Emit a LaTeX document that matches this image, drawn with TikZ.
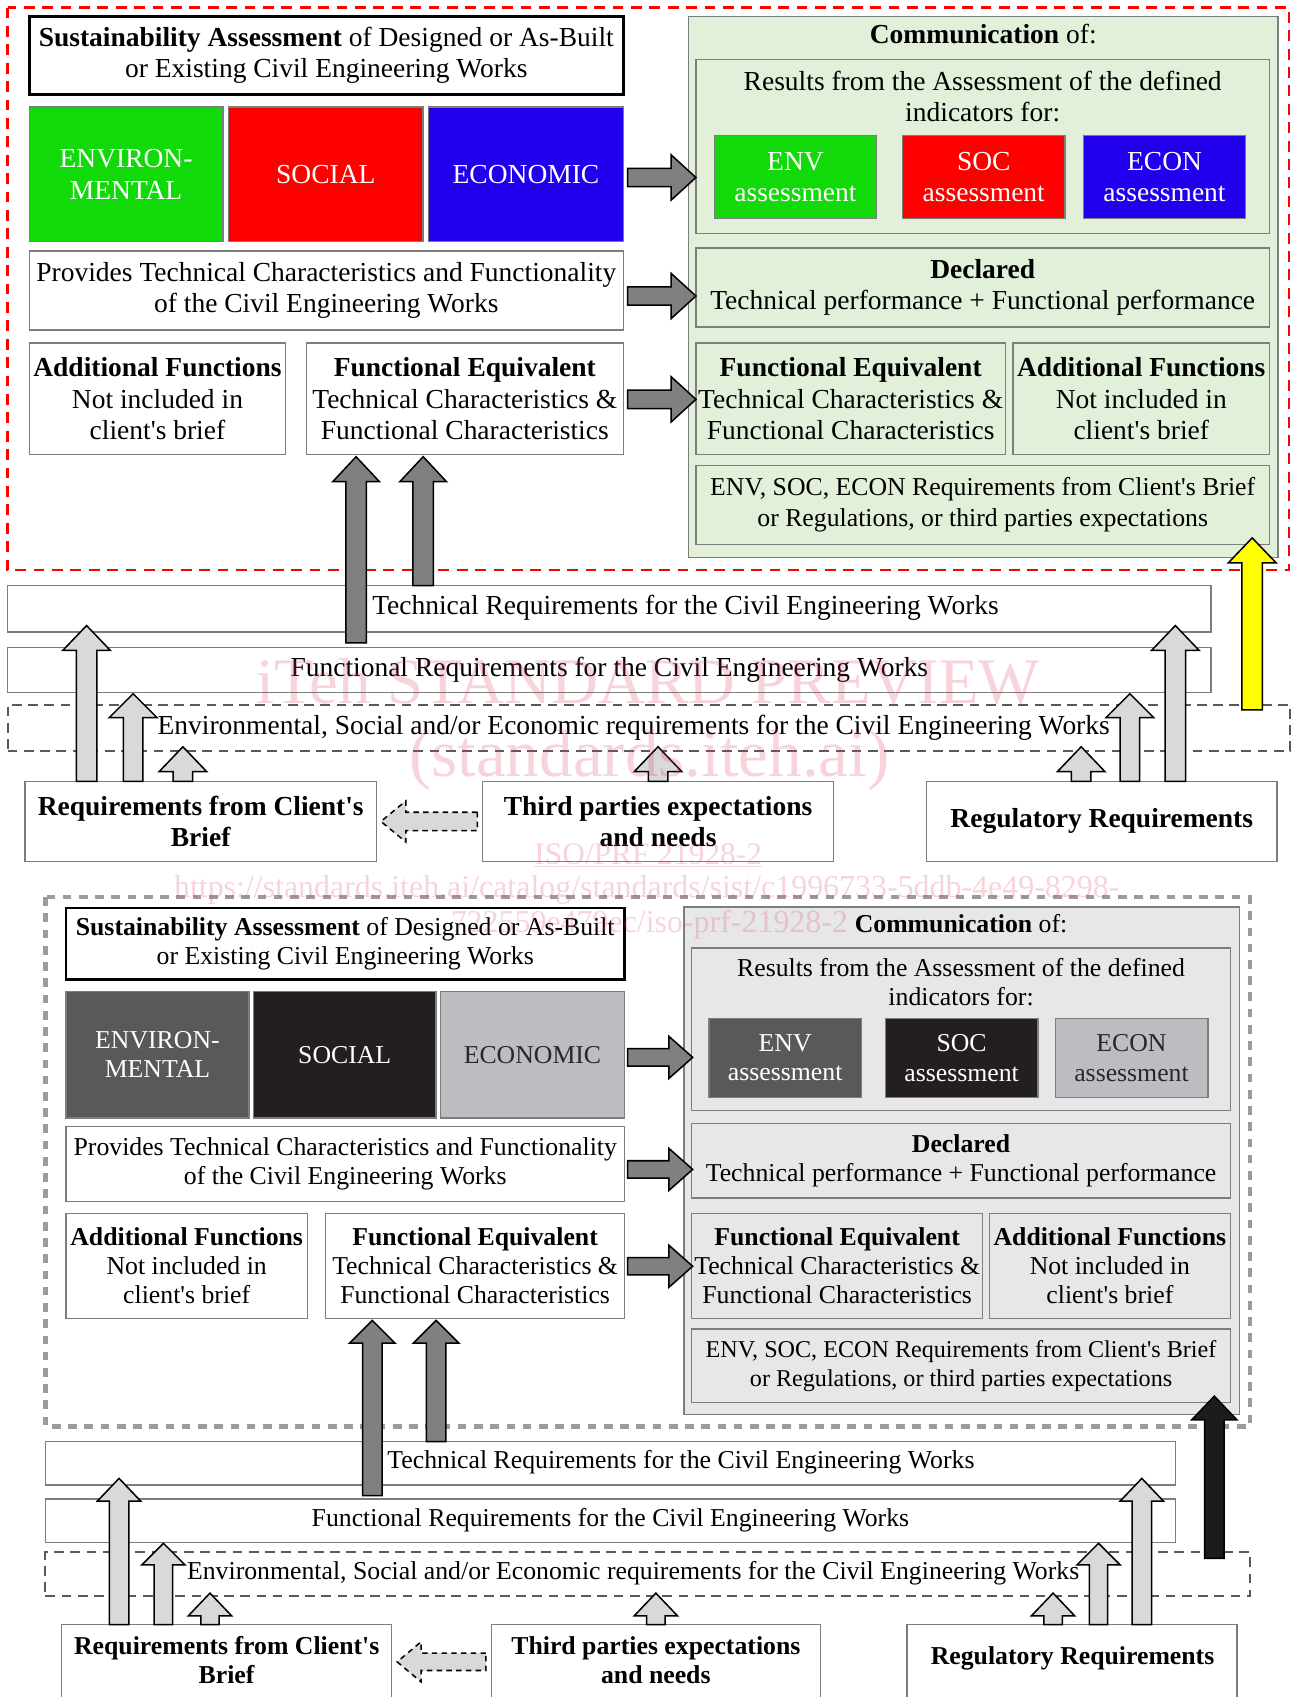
\documentclass[tikz,border=0pt]{standalone}
\usepackage{fontspec}
\setmainfont{Liberation Serif}[Ligatures=TeXOff]
\definecolor{bordgray}{RGB}{125,125,125}
\definecolor{cgreen}{RGB}{18,218,10}
\definecolor{cred}{RGB}{255,0,0}
\definecolor{cblue}{RGB}{34,0,238}
\definecolor{lgreen}{RGB}{226,239,217}
\definecolor{darrow}{RGB}{128,128,128}
\definecolor{larrow}{RGB}{217,217,217}
\definecolor{yarrow}{RGB}{255,255,0}
\definecolor{genv}{RGB}{88,89,91}
\definecolor{gsoc}{RGB}{35,31,32}
\definecolor{geco}{RGB}{188,189,192}
\definecolor{lgray}{RGB}{231,231,232}
\definecolor{dashgray}{RGB}{90,90,90}
\definecolor{outgray}{RGB}{155,155,155}
\definecolor{barrow}{RGB}{28,28,28}
\definecolor{wmcol}{RGB}{220,60,90}
\definecolor{ecotext}{RGB}{40,40,40}
\newcommand\fA{\fontsize{25.4}{29}\selectfont}
\newcommand\fB{\fontsize{23.8}{27.2}\selectfont}
\newcommand\bx[6][]{\node[#1,anchor=north west,minimum width={(#4)-(#2)},minimum height={(#5)-(#3)}] (#6) at (#2,#3)}
% up arrow: [style]{cx}{ybottom}{ytip}{body half}{head half}{head length}
\newcommand\uarr[7][]{\draw[#1] ({#2-#5},#3) -- ({#2-#5},{#4+#7}) -- ({#2-#6},{#4+#7}) -- (#2,#4) -- ({#2+#6},{#4+#7}) -- ({#2+#5},{#4+#7}) -- ({#2+#5},#3) -- cycle;}
% right arrow: [style]{cy}{xleft}{xtip}{body half}{head half}{head length}
\newcommand\rarr[7][]{\draw[#1] (#3,{#2-#5}) -- ({#4-#7},{#2-#5}) -- ({#4-#7},{#2-#6}) -- (#4,#2) -- ({#4-#7},{#2+#6}) -- ({#4-#7},{#2+#5}) -- (#3,{#2+#5}) -- cycle;}
% left arrow: [style]{cy}{xright}{xtip}{body half}{head half}{head length}
\newcommand\larr[7][]{\draw[#1] (#3,{#2-#5}) -- ({#4+#7},{#2-#5}) -- ({#4+#7},{#2-#6}) -- (#4,#2) -- ({#4+#7},{#2+#6}) -- ({#4+#7},{#2+#5}) -- (#3,{#2+#5}) -- cycle;}
\begin{document}
\begin{tikzpicture}[x=1pt,y=-1pt,
  every node/.style={font=\fA, inner sep=0pt, outer sep=0pt},
  box/.style={draw=bordgray, line width=1.3pt, fill=white, align=center},
  sbox/.style={box, draw=black, line width=2.6pt},
  cbox/.style={box, text=white},
  gbox/.style={box, fill=lgreen},
  kbox/.style={box, fill=lgray},
  dbar/.style={draw=dashgray, line width=1.8pt, dash pattern=on 9pt off 6pt},
  arr/.style={draw=black, line width=1.4pt, line join=miter},
  darr/.style={arr, fill=darrow},
  larr/.style={arr, fill=larrow},
  yarr/.style={arr, fill=yarrow},
  barr/.style={arr, fill=barrow},
  dlarr/.style={arr, fill=larrow, dash pattern=on 5pt off 4pt},
  reddash/.style={draw=red, line width=2pt, dash pattern=on 10pt off 7pt},
  graydash/.style={draw=outgray, line width=4pt, dash pattern=on 8pt off 7pt},
  wm/.style={text=wmcol, text opacity=0.22}
]
\useasboundingbox (0,0) rectangle (1194,1568);
\clip (0,0) rectangle (1194,1568);
\fill[white] (0,0) rectangle (1194,1568);

% ================= TOP (colour) =================
\draw[reddash] (7,7) rectangle (1191,527);
\bx[sbox]{27}{15}{576}{87}{sustT}{\textbf{Sustainability Assessment} of Designed or As-Built\\or Existing Civil Engineering Works};
\bx[cbox,fill=cgreen]{27}{99}{206}{223}{envT}{ENVIRON-\\MENTAL};
\bx[cbox,fill=cred]{211}{99}{391}{223}{socT}{SOCIAL};
\bx[cbox,fill=cblue]{396}{99}{576}{223}{ecoT}{ECONOMIC};
\bx[box]{27}{232}{576}{305}{provT}{Provides Technical Characteristics and Functionality\\of the Civil Engineering Works};
\bx[box]{27}{317}{264}{420}{addT}{\textbf{Additional Functions}\\Not included in\\client's brief};
\bx[box]{283}{317}{576}{420}{feT}{\textbf{Functional Equivalent}\\Technical Characteristics \&\\Functional Characteristics};

\bx[gbox]{636}{15}{1181}{515}{commT}{};
\node (commTitleT) at (908.5,31) {\textbf{Communication} of:};
\bx[gbox]{643}{55}{1173}{216}{resT}{};
\node[align=center] (resTxtT) at (908,89) {Results from the Assessment of the defined\\indicators for:};
\bx[cbox,fill=cgreen]{660}{125}{810}{202}{envaT}{ENV\\assessment};
\bx[cbox,fill=cred]{834}{125}{984}{202}{socaT}{SOC\\assessment};
\bx[cbox,fill=cblue]{1001}{125}{1151}{202}{ecoaT}{ECON\\assessment};
\bx[gbox]{643}{229}{1173}{302}{declT}{\textbf{Declared}\\Technical performance + Functional performance};
\bx[gbox]{643}{317}{929}{420}{fe2T}{\textbf{Functional Equivalent}\\Technical Characteristics \&\\Functional Characteristics};
\bx[gbox]{936}{317}{1173}{420}{add2T}{\textbf{Additional Functions}\\Not included in\\client's brief};
\bx[gbox,font=\fontsize{23.8}{29}\selectfont]{643}{430}{1173}{503}{reqT}{ENV, SOC, ECON Requirements from Client's Brief\\or Regulations, or third parties expectations};

\bx[box]{7}{541}{1119}{584}{techT}{};
\node[anchor=west] (techTxtT) at (344,562) {Technical Requirements for the Civil Engineering Works};
\bx[box]{7}{598}{1119}{640}{funcT}{Functional Requirements for the Civil Engineering Works};
\bx[dbar]{7}{651}{1192}{694}{esT}{};
\node (esTxtT) at (585.5,672) {Environmental, Social and/or Economic requirements for the Civil Engineering Works};

\bx[box]{23}{722}{348}{796}{clientT}{\textbf{Requirements from Client's}\\\textbf{Brief}};
\bx[box]{446}{722}{770}{796}{thirdT}{\textbf{Third parties expectations}\\\textbf{and needs}};
\bx[box]{856}{722}{1180}{796}{regT}{\textbf{Regulatory Requirements}};

% arrows top
\rarr[darr]{164}{580}{643}{8.5}{21}{23}
\rarr[darr]{273.5}{580}{643}{8.5}{21}{23}
\rarr[darr]{369}{580}{643}{8.5}{21}{23}
\uarr[darr]{329}{594}{422}{9.5}{21.5}{23}
\uarr[darr]{391}{541}{422}{9.5}{21.5}{23}
\uarr[larr]{80}{722}{578}{9.5}{22}{23}
\uarr[larr]{123}{722}{641}{9}{22}{22}
\uarr[larr]{169}{722}{690}{9}{22}{23}
\uarr[larr]{608}{722}{690}{9}{22}{23}
\uarr[larr]{999}{722}{690}{9}{22}{23}
\uarr[larr]{1044}{722}{641}{9}{22}{22}
\uarr[larr]{1086}{722}{578}{9.5}{22}{23}
\uarr[yarr]{1157}{656}{497}{9.5}{22}{23}
\larr[dlarr]{759}{441}{352}{8.5}{19}{23}

% ================= BOTTOM (grey) =================
\begin{scope}[every node/.style={font=\fB, inner sep=0pt, outer sep=0pt}]
\draw[graydash] (42,829) rectangle (1155,1318);
\bx[sbox]{61}{839}{577}{905}{sustB}{\textbf{Sustainability Assessment} of Designed or As-Built\\or Existing Civil Engineering Works};
\bx[cbox,fill=genv]{61}{916}{230}{1033}{envB}{ENVIRON-\\MENTAL};
\bx[cbox,fill=gsoc]{234}{916}{403}{1033}{socB}{SOCIAL};
\bx[cbox,fill=geco,text=ecotext]{407}{916}{577}{1033}{ecoB}{ECONOMIC};
\bx[box]{61}{1041}{577}{1110}{provB}{Provides Technical Characteristics and Functionality\\of the Civil Engineering Works};
\bx[box]{61}{1121}{284}{1218}{addB}{\textbf{Additional Functions}\\Not included in\\client's brief};
\bx[box]{301}{1121}{577}{1218}{feB}{\textbf{Functional Equivalent}\\Technical Characteristics \&\\Functional Characteristics};

\bx[kbox]{632}{838}{1145}{1307}{commB}{};
\node (commTitleB) at (888,853) {\textbf{Communication} of:};
\bx[kbox]{639}{876}{1137}{1026}{resB}{};
\node[align=center] (resTxtB) at (888,907.5) {Results from the Assessment of the defined\\indicators for:};
\bx[cbox,fill=genv]{655}{941}{796}{1014}{envaB}{ENV\\assessment};
\bx[cbox,fill=gsoc]{818}{941}{959}{1014}{socaB}{SOC\\assessment};
\bx[cbox,fill=geco,text=ecotext]{975}{941}{1116}{1014}{ecoaB}{ECON\\assessment};
\bx[kbox]{639}{1038}{1137}{1107}{declB}{\textbf{Declared}\\Technical performance + Functional performance};
\bx[kbox]{639}{1121}{908}{1218}{fe2B}{\textbf{Functional Equivalent}\\Technical Characteristics \&\\Functional Characteristics};
\bx[kbox]{914}{1121}{1137}{1218}{add2B}{\textbf{Additional Functions}\\Not included in\\client's brief};
\bx[kbox,font=\fontsize{22.3}{27.2}\selectfont]{639}{1228}{1137}{1296}{reqB}{ENV, SOC, ECON Requirements from Client's Brief\\or Regulations, or third parties expectations};

\bx[box]{42}{1332}{1086}{1372}{techB}{};
\node[anchor=west] (techTxtB) at (358,1351) {Technical Requirements for the Civil Engineering Works};
\bx[box]{42}{1385}{1086}{1425}{funcB}{Functional Requirements for the Civil Engineering Works};
\bx[dbar]{42}{1434}{1155}{1475}{esB}{};
\node (esTxtB) at (585,1454) {Environmental, Social and/or Economic requirements for the Civil Engineering Works};

\bx[box]{57}{1501}{362}{1585}{clientB}{};
\node[align=center] (clientTxtB) at (209.5,1534) {\textbf{Requirements from Client's}\\\textbf{Brief}};
\bx[box]{454}{1501}{758}{1585}{thirdB}{};
\node[align=center] (thirdTxtB) at (606,1534) {\textbf{Third parties expectations}\\\textbf{and needs}};
\bx[box]{838}{1501}{1143}{1585}{regB}{};
\node (regTxtB) at (991,1532) {\textbf{Regulatory Requirements}};

\rarr[darr]{977}{580}{640}{8}{19.5}{22}
\rarr[darr]{1080.5}{580}{640}{8}{19.5}{22}
\rarr[darr]{1170}{580}{640}{8}{19.5}{22}
\uarr[darr]{344}{1382}{1220}{9}{21}{21}
\uarr[darr]{403}{1332}{1220}{9}{21}{21}
\uarr[larr]{110}{1501}{1366}{9}{20}{21}
\uarr[larr]{151}{1501}{1426}{8.5}{20}{20}
\uarr[larr]{194}{1501}{1472}{8.5}{20}{21}
\uarr[larr]{606}{1501}{1472}{8.5}{20}{21}
\uarr[larr]{973}{1501}{1472}{8.5}{20}{21}
\uarr[larr]{1015}{1501}{1426}{8.5}{20}{20}
\uarr[larr]{1055}{1501}{1366}{9}{20}{21}
\uarr[barr]{1122}{1440}{1290}{9}{21}{22}
\larr[dlarr]{1535.5}{449}{367}{8}{18.5}{22}
\end{scope}

% ================= watermark =================
\node[wm, font=\fontsize{60}{60}\selectfont] (wm1) at (599,630) {iTeh STANDARD PREVIEW};
\node[wm, font=\fontsize{62}{62}\selectfont] (wm2) at (600,703) {(standards.iteh.ai)};
\node[wm, font=\fontsize{29}{29}\selectfont] (wm3) at (599,790) {\underline{ISO/PRF 21928-2}};
\node[wm, font=\fontsize{29.5}{29.5}\selectfont] (wm4) at (597.5,822) {https://standards.iteh.ai/catalog/standards/sist/c1996733-5ddb-4e49-8298-};
\node[wm, font=\fontsize{29.5}{29.5}\selectfont] (wm5) at (600,854) {722559e479ec/iso-prf-21928-2};
\end{tikzpicture}
\end{document}
